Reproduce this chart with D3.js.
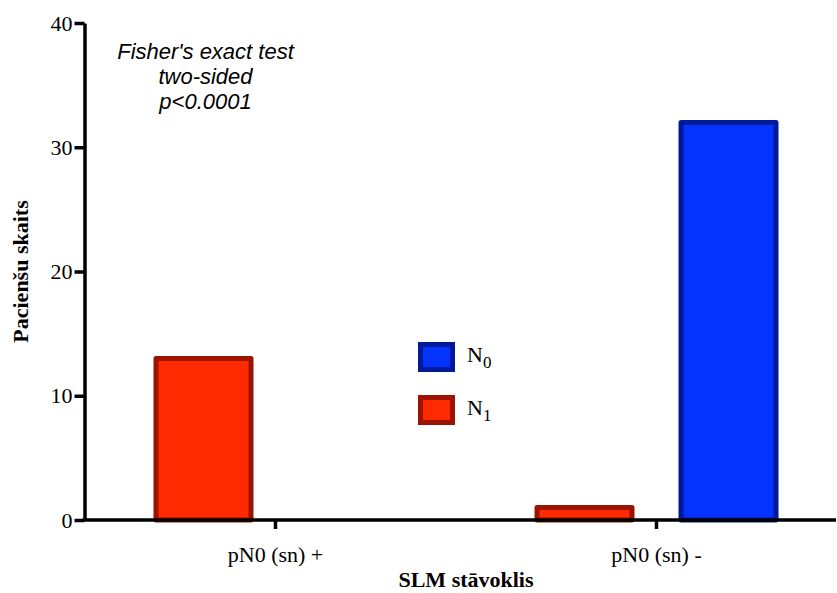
<!DOCTYPE html>
<html>
<head>
<meta charset="utf-8">
<script src="https://cdn.jsdelivr.net/npm/d3@7"></script>
<style>
  html, body { margin: 0; padding: 0; background: #fff; }
  svg { display: block; }
</style>
</head>
<body>
<svg id="chart" width="837" height="593"></svg>
<script>
// Patient counts by sentinel lymph node status
const categories = ["pN0 (sn) +", "pN0 (sn) -"];
const seriesKeys = ["N1", "N0"];           // drawn left to right within each group
const valuesN1 = [13, 1];
const valuesN0 = [0, 32];
const yTicks = [0, 10, 20, 30, 40];
const legendItems = [
  { key: "N0", base: "N", sub: "0" },
  { key: "N1", base: "N", sub: "1" }
];
const statLines = ["Fisher's exact test", "two-sided", "p<0.0001"];

const fills   = { N0: "#0433ff", N1: "#ff2a00" };
const strokes = { N0: "#001a99", N1: "#9a1400" };

const svg = d3.select("#chart");
const serif = "'Liberation Serif', 'Times New Roman', serif";
const sans = "'Liberation Sans', Arial, sans-serif";

const plotLeft = 85, plotBottom = 520, plotTop = 23;

const y = d3.scaleLinear().domain([0, 40]).range([plotBottom, plotTop]);
const x0 = d3.scaleBand().domain(categories).range([plotLeft, 847]);
const x1 = d3.scaleBand().domain(seriesKeys).range([68.5, 312.5]).paddingInner(0.3056);

const rows = categories.map((c, i) => ({ cat: c, N1: valuesN1[i], N0: valuesN0[i] }));

// Bars
const bw = 5;
const groups = svg.append("g").selectAll("g").data(rows).join("g")
  .attr("transform", d => `translate(${x0(d.cat)},0)`);
groups.selectAll("rect")
  .data(d => seriesKeys.map(k => ({ key: k, value: d[k] })).filter(e => e.value > 0))
  .join("rect")
  .attr("x", d => x1(d.key) + bw / 2)
  .attr("width", x1.bandwidth() - bw)
  .attr("y", d => y(d.value))
  .attr("height", d => y(0) - y(d.value))
  .attr("fill", d => fills[d.key])
  .attr("stroke", d => strokes[d.key])
  .attr("stroke-width", bw)
  .attr("stroke-linejoin", "round");

// Y axis
const yAxis = svg.append("g")
  .attr("transform", `translate(${plotLeft - 0.5},0)`)
  .call(d3.axisLeft(y).tickValues(yTicks).tickSize(10).tickSizeOuter(0).tickPadding(2));
yAxis.select(".domain").attr("stroke", "#000").attr("stroke-width", 3.5);
yAxis.selectAll(".tick line").attr("stroke", "#000").attr("stroke-width", 3.5);
yAxis.selectAll(".tick text")
  .attr("fill", "#000")
  .style("font-family", serif)
  .style("font-size", "22px");

// X axis
const xAxis = svg.append("g")
  .attr("transform", `translate(0,${plotBottom})`)
  .call(d3.axisBottom(x0).tickSize(9).tickSizeOuter(0).tickPadding(17));
xAxis.select(".domain").attr("d", `M${plotLeft - 2.5},0H836`)
  .attr("stroke", "#000").attr("stroke-width", 3.5);
xAxis.selectAll(".tick line").attr("stroke", "#000").attr("stroke-width", 3.5);
xAxis.selectAll(".tick text")
  .attr("fill", "#000")
  .style("font-family", serif)
  .style("font-size", "22px");

// Axis titles
svg.append("text")
  .attr("x", 466).attr("y", 587)
  .attr("text-anchor", "middle")
  .style("font-family", serif).style("font-size", "22px").style("font-weight", "bold")
  .text("SLM stāvoklis");

svg.append("text")
  .attr("transform", `translate(28,${(plotTop + plotBottom) / 2}) rotate(-90)`)
  .attr("text-anchor", "middle")
  .style("font-family", serif).style("font-size", "22px").style("font-weight", "bold")
  .text("Pacienšu skaits");

// Statistical test annotation
svg.append("g").selectAll("text").data(statLines).join("text")
  .attr("x", 205.5)
  .attr("y", (d, i) => 59 + i * 25)
  .attr("text-anchor", "middle")
  .style("font-family", sans).style("font-size", "22px").style("font-style", "italic")
  .text(d => d);

// Legend
const legend = svg.append("g").attr("transform", "translate(418,342)");
const li = legend.selectAll("g").data(legendItems).join("g")
  .attr("transform", (d, i) => `translate(0,${i * 53})`);
li.append("rect")
  .attr("x", 2.5).attr("y", 2.5)
  .attr("width", 32).attr("height", 25)
  .attr("fill", d => fills[d.key])
  .attr("stroke", d => strokes[d.key])
  .attr("stroke-width", bw);
const lt = li.append("text")
  .attr("x", 49).attr("y", 20)
  .style("font-family", serif).style("font-size", "22px");
lt.append("tspan").text(d => d.base);
lt.append("tspan").attr("dy", 6).style("font-size", "17px").text(d => d.sub);
</script>
</body>
</html>
